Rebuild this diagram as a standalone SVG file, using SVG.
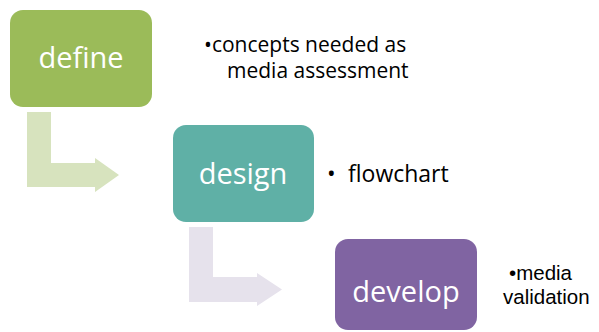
<svg xmlns="http://www.w3.org/2000/svg" width="599" height="332" viewBox="0 0 599 332">
<style>
.box-label{font-family:"Open Sans","Noto Sans",sans-serif;font-size:29px;fill:#ffffff;text-anchor:middle}
.note{font-family:"Open Sans","Noto Sans",sans-serif;font-size:21px;fill:#000000}
.note-lg{font-size:23px}
.note-sm{font-family:"Liberation Sans",Arial,sans-serif;font-size:20.5px}
</style>
<rect width="599" height="332" fill="#ffffff"/>
<g id="connectors">
<polygon id="arrow1" points="27,112 51,112 51,163 95,163 95,158 119,175 95,192 95,187 27,187" fill="#D7E3BE"/>
<polygon id="arrow2" points="189,227 213,227 213,277 257,277 257,273 282,289.5 257,306 257,302 189,302" fill="#E6E2EC"/>
</g>
<g id="define">
<rect x="10" y="10" width="142" height="97" rx="13" fill="#9BBB59"/>
<text class="box-label" x="81" y="68">define</text>
</g>
<g id="design">
<rect x="173" y="125" width="141" height="97" rx="13" fill="#5FB0A6"/>
<text class="box-label" x="243" y="184">design</text>
</g>
<g id="develop">
<rect x="335" y="239" width="142" height="91" rx="13" fill="#8064A2"/>
<text class="box-label" x="406" y="302">develop</text>
</g>
<g id="note-define">
<text class="note"><tspan x="204" y="52">•concepts needed as</tspan><tspan x="227" y="78">media assessment</tspan></text>
</g>
<g id="note-design">
<text class="note note-lg" x="327" y="182">•<tspan x="348">flowchart</tspan></text>
</g>
<g id="note-develop">
<text class="note note-sm" x="509" y="280">•media</text>
<text class="note note-sm" x="503" y="303.5">validation</text>
</g>
</svg>
